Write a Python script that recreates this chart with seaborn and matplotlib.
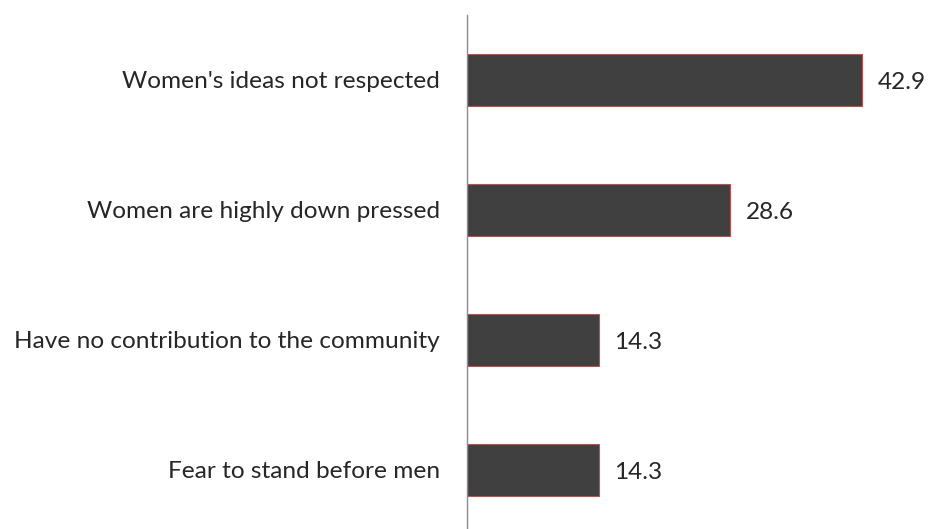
import matplotlib
matplotlib.use("Agg")
import matplotlib.pyplot as plt
import seaborn as sns
import pandas as pd

categories = [
    "Women's ideas not respected",
    "Women are highly down pressed",
    "Have no contribution to the community",
    "Fear to stand before men",
]
values = [42.9, 28.6, 14.3, 14.3]

df = pd.DataFrame({"reason": categories, "percent": values})

sns.set_theme(style="white")
plt.rcParams["font.family"] = ["Lato", "DejaVu Sans"]

fig = plt.figure(figsize=(9.3, 5.29), dpi=100)
ax = fig.add_axes([467 / 930, -6 / 529, 460 / 930, 520 / 529])

sns.barplot(
    data=df, x="percent", y="reason", orient="h", ax=ax,
    color="#404040", saturation=1, width=0.4,
    edgecolor="#c0504d", linewidth=0.8,
)

ax.set_xlim(0, 50)
ax.set_ylim(3.5, -0.5)
ax.set_xlabel("")
ax.set_ylabel("")
ax.set_xticks([])
for s in ["top", "right", "bottom"]:
    ax.spines[s].set_visible(False)
ax.spines["left"].set_color("#8c8c8c")
ax.spines["left"].set_linewidth(1.0)
ax.tick_params(axis="y", length=0, pad=19.5, labelsize=17.6, labelcolor="#262626")

for i, v in enumerate(values):
    ax.text(v + 1.7, i + 0.02, f"{v:.1f}", va="center", ha="left",
            fontsize=17.6, color="#262626")

fig.savefig("out.png", dpi=100)
